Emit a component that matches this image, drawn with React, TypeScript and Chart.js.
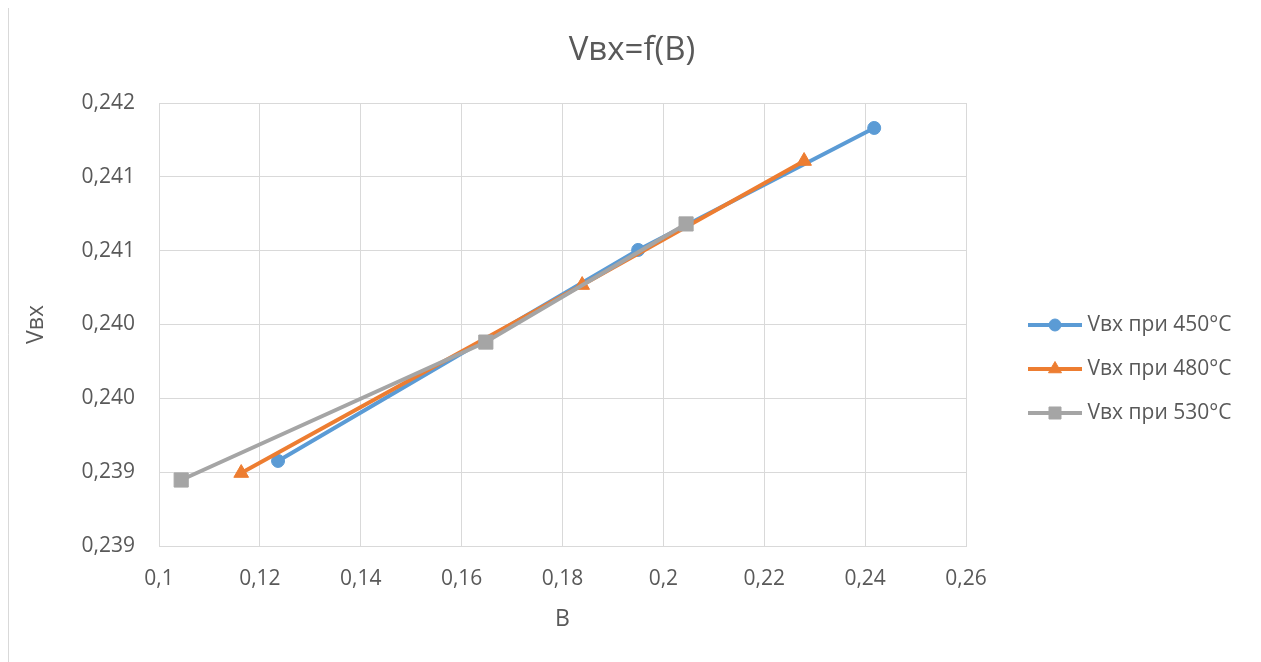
import React, { useEffect, useRef } from 'react';
import { Chart, registerables } from 'chart.js';
import { drawPoint } from 'chart.js/helpers';

Chart.register(...registerables);

const chartTitle = 'Vвх=f(B)';
const xAxisTitle = 'B';
const yAxisTitle = 'Vвх';

const seriesLabels = ['Vвх при 450°C', 'Vвх при 480°C', 'Vвх при 530°C'];
const seriesColors = ['#5B9BD5', '#ED7D31', '#A5A5A5'];
const seriesMarkers = ['circle', 'triangle', 'rect'];
const seriesMarkerRadius = [6.5, 8.5, 10];
const legendMarkerRadius = [6, 7.5, 8.5];

const b450 = [0.1236, 0.195, 0.2418];
const v450 = [0.239576, 0.241005, 0.241831];
const b480 = [0.1163, 0.1839, 0.2279];
const v480 = [0.239494, 0.240767, 0.241607];
const b530 = [0.1044, 0.1648, 0.2045];
const v530 = [0.239447, 0.240381, 0.241181];

const xTickValues = [0.1, 0.12, 0.14, 0.16, 0.18, 0.2, 0.22, 0.24, 0.26];
const xTickLabels = ['0,1', '0,12', '0,14', '0,16', '0,18', '0,2', '0,22', '0,24', '0,26'];
const yTickValues = [0.239, 0.2395, 0.24, 0.2405, 0.241, 0.2415, 0.242];
const yTickLabels = ['0,239', '0,239', '0,240', '0,240', '0,241', '0,241', '0,242'];

const TEXT = '#595959';
const GRID = '#D9D9D9';
const FRAME = '#D9D9D9';
const FONT = "'Open Sans', sans-serif";
const W = 1248;
const H = 656;
const AREA_LEFT = 151;
const AREA_RIGHT = 958;
const LEGEND_PAD = 23;
const LEGEND_BOX = 88;
const LEGEND_FONT = 21;

function makeLegendIcon(color: string, marker: string, radius: number): HTMLCanvasElement {
  const c = document.createElement('canvas');
  c.width = 98;
  c.height = 22;
  const ctx = c.getContext('2d') as CanvasRenderingContext2D;
  ctx.strokeStyle = color;
  ctx.lineWidth = 4;
  ctx.beginPath();
  ctx.moveTo(44, 11);
  ctx.lineTo(98, 11);
  ctx.stroke();
  ctx.fillStyle = color;
  ctx.lineWidth = 1;
  drawPoint(ctx, { pointStyle: marker as any, radius, rotation: 0, borderWidth: 1 } as any, 71, 11);
  return c;
}

const framePlugin = {
  id: 'frame',
  afterDraw(chart: any) {
    const ctx = chart.ctx;
    ctx.save();
    ctx.strokeStyle = FRAME;
    ctx.lineWidth = 1;
    ctx.beginPath();
    ctx.moveTo(0.5, chart.height);
    ctx.lineTo(0.5, 0.5);
    ctx.lineTo(chart.width - 0.5, 0.5);
    ctx.lineTo(chart.width - 0.5, chart.height);
    ctx.stroke();
    ctx.restore();
  },
};

export default function App() {
  const ref = useRef<HTMLCanvasElement | null>(null);

  useEffect(() => {
    if (!ref.current) return;
    Chart.defaults.font.family = FONT;
    Chart.defaults.color = TEXT;

    const m = document.createElement('canvas').getContext('2d') as CanvasRenderingContext2D;
    m.font = `normal ${LEGEND_FONT}px ${FONT}`;
    const textW = Math.max(...seriesLabels.map((t) => m.measureText(t).width));
    const legendW = LEGEND_PAD + LEGEND_BOX + LEGEND_FONT / 2 + textW + 10;
    const side = Math.max(0, W - AREA_RIGHT - legendW);
    const yTitlePad = Math.max(0, 14.9 - side);

    const xs = [b450, b480, b530];
    const ys = [v450, v480, v530];
    const icons = seriesColors.map((c, i) => makeLegendIcon(c, seriesMarkers[i], legendMarkerRadius[i]));

    const chart = new Chart(ref.current, {
      type: 'scatter',
      plugins: [framePlugin],
      data: {
        datasets: seriesLabels.map((label, i) => ({
          label,
          data: xs[i].map((x, j) => ({ x, y: ys[i][j] })),
          borderColor: seriesColors[i],
          backgroundColor: seriesColors[i],
          pointBackgroundColor: seriesColors[i],
          pointBorderColor: seriesColors[i],
          pointStyle: seriesMarkers[i] as any,
          pointRadius: seriesMarkerRadius[i],
          pointHoverRadius: seriesMarkerRadius[i],
          pointBorderWidth: 1,
          borderWidth: 4,
          showLine: true,
          tension: 0,
          order: 2 - i,
        })),
      },
      options: {
        responsive: false,
        animation: false,
        devicePixelRatio: 1,
        layout: { padding: { left: side, right: side, top: 0, bottom: 0 } },
        plugins: {
          tooltip: { enabled: false },
          title: {
            display: true,
            text: chartTitle,
            color: TEXT,
            font: { size: 33, weight: 'normal' },
            padding: { top: 25, bottom: 32.4 },
          },
          legend: {
            position: 'right',
            align: 'start',
            fullSize: false,
            title: { display: true, text: ' ', font: { size: LEGEND_FONT }, padding: { top: 163.3, bottom: 0 } },
            labels: {
              usePointStyle: true,
              pointStyleWidth: LEGEND_BOX,
              boxHeight: LEGEND_FONT,
              padding: LEGEND_PAD,
              color: TEXT,
              font: { size: LEGEND_FONT },
              generateLabels: (ch: any) =>
                ch.data.datasets.map((ds: any, i: number) => ({
                  text: ds.label,
                  fillStyle: seriesColors[i],
                  strokeStyle: seriesColors[i],
                  lineWidth: 0,
                  pointStyle: icons[i],
                  hidden: false,
                  datasetIndex: i,
                  fontColor: TEXT,
                })),
            },
          },
        },
        scales: {
          x: {
            type: 'linear',
            min: 0.1,
            max: 0.26,
            afterBuildTicks: (s: any) => {
              s.ticks = xTickValues.map((v) => ({ value: v }));
            },
            afterFit: (s: any) => {
              s.height = 116;
            },
            grid: { color: GRID, drawTicks: false, lineWidth: 1 },
            border: { color: GRID },
            ticks: {
              padding: 20,
              color: TEXT,
              font: { size: 21 },
              maxRotation: 0,
              autoSkip: false,
              callback: (_v: any, i: number) => xTickLabels[i],
            },
            title: {
              display: true,
              text: xAxisTitle,
              color: TEXT,
              font: { size: 23 },
              padding: { top: 0, bottom: 28.5 },
            },
          },
          y: {
            type: 'linear',
            min: 0.239,
            max: 0.242,
            afterBuildTicks: (s: any) => {
              s.ticks = yTickValues.map((v) => ({ value: v }));
            },
            afterFit: (s: any) => {
              s.width = AREA_LEFT - side;
            },
            grid: { color: GRID, drawTicks: false, lineWidth: 1 },
            border: { color: GRID },
            ticks: {
              padding: 24,
              color: TEXT,
              font: { size: 21 },
              autoSkip: false,
              callback: (_v: any, i: number) => yTickLabels[i],
            },
            title: {
              display: true,
              text: yAxisTitle,
              color: TEXT,
              font: { size: 23 },
              padding: { top: yTitlePad, bottom: 0 },
            },
          },
        },
      } as any,
    });
    return () => chart.destroy();
  }, []);

  return (
    <div style={{ width: W, height: H, margin: '-2px 0 0 0' }}>
      <canvas ref={ref} width={W} height={H} style={{ display: 'block', width: W, height: H }} />
    </div>
  );
}
